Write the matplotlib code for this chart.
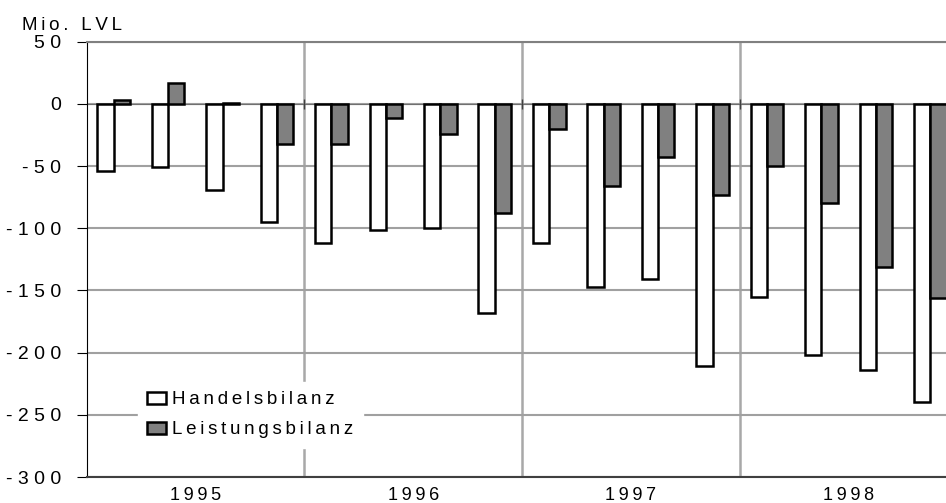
import matplotlib
matplotlib.use('Agg')
import matplotlib.pyplot as plt
import numpy as np

# Quartalswerte 1995-1998, Mio. LVL
jahre = ['1995', '1996', '1997', '1998']
handelsbilanz = [-54, -51, -69, -95, -112, -101, -100, -168,
                 -112, -147, -141, -211, -155, -202, -214, -240]
leistungsbilanz = [3, 17, 1, -32, -32, -11, -24, -88,
                   -20, -66, -43, -73, -50, -80, -131, -156]
y_ticks = list(range(-300, 51, 50))

plt.rcParams['font.family'] = ['Liberation Sans', 'DejaVu Sans']


def sperren(text, gap='\u2009'):
    """Gesperrte Schrift wie im Original."""
    return gap.join(text)


fig = plt.figure(figsize=(9.46, 5.03), dpi=100)
# rechte Kante liegt ausserhalb des Bildes (wie im Original abgeschnitten)
ax = fig.add_axes([86.5 / 946, 26 / 503, 871 / 946, 435.3 / 503])

x = np.arange(len(handelsbilanz))
breite = 0.3
ax.bar(x - breite / 2, handelsbilanz, breite, color='white', edgecolor='black',
       linewidth=1.8, label=sperren('Handelsbilanz'), zorder=3)
ax.bar(x + breite / 2, leistungsbilanz, breite, color='#808080', edgecolor='black',
       linewidth=1.8, label=sperren('Leistungsbilanz'), zorder=3)

ax.set_xlim(-0.5, len(x) - 0.5)
ax.set_ylim(-300, 50)

ax.set_yticks(y_ticks)
ax.set_yticklabels([sperren(str(v), ' ') for v in y_ticks])
ax.tick_params(axis='y', length=7.2, width=0.8, color='black', pad=11, labelsize=14)

mitten = [4 * i + 1.5 for i in range(len(jahre))]
grenzen = [4 * i + 3.5 for i in range(len(jahre) - 1)]
ax.set_xticks(mitten)
ax.set_xticklabels([sperren(j) for j in jahre])
ax.set_xticks(grenzen, minor=True)
ax.tick_params(axis='x', which='both', length=0, pad=7, labelsize=13)

ax.set_axisbelow(True)
ax.grid(axis='y', color='#a0a0a0', linewidth=1.5)
ax.grid(axis='x', which='minor', color='#a8a8a8', linewidth=1.8)
ax.axhline(0, color='#707070', linewidth=0.8, zorder=2)
ax.plot(grenzen, [0] * len(grenzen), ls='none', marker='|', ms=7, mew=1,
        color='#404040', zorder=2)

ax.spines['left'].set_color('black')
ax.spines['left'].set_linewidth(0.8)
ax.spines['bottom'].set_color('#404040')
ax.spines['bottom'].set_linewidth(1.5)
ax.spines['top'].set_color('#808080')
ax.spines['top'].set_linewidth(1.5)
ax.spines['right'].set_visible(False)

leg = ax.legend(loc='upper left', bbox_to_anchor=(138 / 946, 1 - 382 / 503),
                bbox_transform=fig.transFigure, borderaxespad=0, fontsize=13.5,
                frameon=True, facecolor='white', edgecolor='white', framealpha=1,
                fancybox=False, handlelength=1.0, handleheight=0.65,
                handletextpad=0.33, labelspacing=0.7, borderpad=0.5)
leg.set_zorder(4)

fig.text(22 / 946, 1 - 30 / 503, sperren('Mio. LVL'), fontsize=13.5, va='baseline')

fig.savefig('out.png', dpi=100)
